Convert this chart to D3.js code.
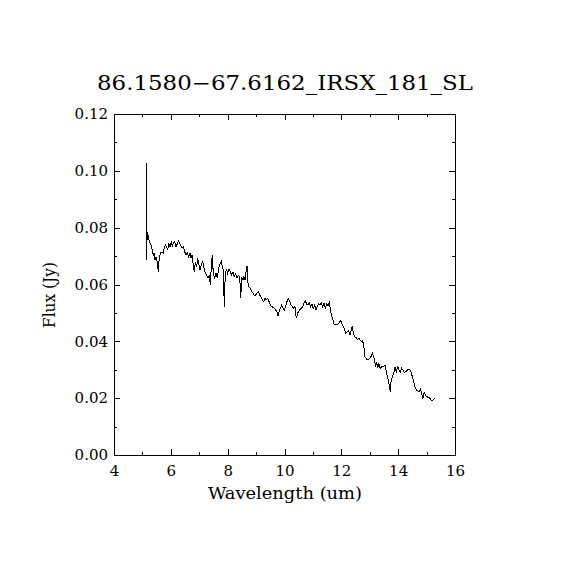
<!DOCTYPE html>
<html>
<head>
<meta charset="utf-8">
<script src="https://cdn.jsdelivr.net/npm/d3@7"></script>
<style>
  html, body { margin: 0; padding: 0; background: #fff; }
  svg { display: block; }
  .axis text { font-family: "DejaVu Serif", serif; font-size: 15px; fill: #000; }
  .axis line, .axis path { stroke: #000; stroke-width: 1; }
</style>
</head>
<body>
<svg id="chart" width="570" height="570"></svg>
<script>
// spectrum
const wavelength = [
  5.133, 5.144, 5.161, 5.182, 5.207, 5.242, 5.302, 5.348, 5.383, 5.408,
  5.443, 5.478, 5.524, 5.559, 5.594, 5.643, 5.689, 5.735, 5.770, 5.805,
  5.855, 5.890, 5.925, 5.971, 6.016, 6.052, 6.087, 6.136, 6.182, 6.228,
  6.263, 6.298, 6.347, 6.393, 6.439, 6.488, 6.534, 6.580, 6.629, 6.675,
  6.710, 6.745, 6.791, 6.826, 6.861, 6.910, 6.946, 6.981, 7.026, 7.072,
  7.121, 7.167, 7.213, 7.262, 7.308, 7.354, 7.389, 7.424, 7.459, 7.494,
  7.544, 7.589, 7.635, 7.684, 7.720,
  7.776, 7.811, 7.846, 7.882, 7.917, 7.966, 8.001, 8.047, 8.093, 8.142,
  8.188, 8.233, 8.283, 8.328, 8.374, 8.424, 8.459, 8.494, 8.540, 8.575,
  8.610, 8.645, 8.680, 8.705, 8.751, 8.797, 8.846, 8.892, 8.937, 8.987,
  9.032, 9.078, 9.127, 9.173, 9.219, 9.268, 9.314, 9.360, 9.409, 9.455,
  9.500, 9.550, 9.595, 9.641, 9.690, 9.736, 9.771, 9.806, 9.852, 9.902,
  9.947, 9.993, 10.042, 10.088, 10.134, 10.183, 10.229, 10.275, 10.324, 10.370,
  10.415, 10.465, 10.521, 10.581, 10.641, 10.686, 10.732, 10.781, 10.827, 10.873,
  10.922, 10.968, 11.014, 11.063, 11.109, 11.154, 11.204, 11.249, 11.295, 11.344,
  11.390, 11.436, 11.485, 11.531, 11.577, 11.612, 11.647, 11.696, 11.742, 11.788,
  11.837, 11.883, 11.929, 11.978, 12.024, 12.069, 12.119, 12.164, 12.210, 12.259,
  12.305, 12.351, 12.386, 12.421, 12.470, 12.516, 12.562, 12.611, 12.657, 12.703,
  12.752, 12.798, 12.833, 12.893, 12.963,
  12.998, 13.044, 13.090, 13.139, 13.174, 13.209, 13.245, 13.280, 13.315, 13.361,
  13.421, 13.477, 13.537, 13.572, 13.607, 13.653, 13.688, 13.723, 13.748, 13.794,
  13.843, 13.889, 13.934, 13.984, 14.029, 14.075, 14.124, 14.170, 14.216, 14.265,
  14.311, 14.357, 14.406, 14.452, 14.497, 14.547, 14.592, 14.638, 14.687, 14.733,
  14.779, 14.828, 14.863, 14.899, 14.934, 14.969, 15.015, 15.061, 15.110, 15.156,
  15.201, 15.251, 15.286
];
const flux = [
  0.0686, 0.1028, 0.0785, 0.0757, 0.0774, 0.0751, 0.0739, 0.0721, 0.0704, 0.0711,
  0.0686, 0.0698, 0.0680, 0.0645, 0.0698, 0.0711, 0.0715, 0.0711, 0.0729, 0.0739,
  0.0733, 0.0721, 0.0746, 0.0733, 0.0751, 0.0733, 0.0746, 0.0751, 0.0733, 0.0743,
  0.0754, 0.0746, 0.0739, 0.0729, 0.0733, 0.0715, 0.0704, 0.0711, 0.0698, 0.0711,
  0.0692, 0.0704, 0.0669, 0.0645, 0.0680, 0.0663, 0.0692, 0.0675, 0.0651, 0.0669,
  0.0680, 0.0657, 0.0639, 0.0633, 0.0622, 0.0633, 0.0598, 0.0663, 0.0704, 0.0639,
  0.0622, 0.0639, 0.0622, 0.0657, 0.0669,
  0.0680, 0.0663, 0.0651, 0.0522, 0.0645, 0.0651, 0.0639, 0.0654, 0.0645, 0.0633,
  0.0645, 0.0628, 0.0639, 0.0622, 0.0633, 0.0628, 0.0551, 0.0622, 0.0616, 0.0628,
  0.0616, 0.0645, 0.0665, 0.0610, 0.0592, 0.0587, 0.0575, 0.0569, 0.0560, 0.0563,
  0.0569, 0.0575, 0.0563, 0.0557, 0.0546, 0.0540, 0.0551, 0.0546, 0.0551, 0.0540,
  0.0528, 0.0522, 0.0520, 0.0516, 0.0510, 0.0504, 0.0489, 0.0504, 0.0516, 0.0528,
  0.0516, 0.0510, 0.0522, 0.0540, 0.0551, 0.0540, 0.0528, 0.0522, 0.0516, 0.0522,
  0.0481, 0.0499, 0.0510, 0.0516, 0.0522, 0.0534, 0.0543, 0.0531, 0.0528, 0.0534,
  0.0522, 0.0531, 0.0516, 0.0528, 0.0510, 0.0522, 0.0531, 0.0528, 0.0534, 0.0522,
  0.0534, 0.0516, 0.0531, 0.0524, 0.0536, 0.0516, 0.0493, 0.0481, 0.0461, 0.0458,
  0.0461, 0.0460, 0.0466, 0.0473, 0.0461, 0.0452, 0.0440, 0.0428, 0.0434, 0.0437,
  0.0422, 0.0440, 0.0452, 0.0430, 0.0416, 0.0414, 0.0407, 0.0411, 0.0405, 0.0399,
  0.0402, 0.0376, 0.0346, 0.0337, 0.0337,
  0.0340, 0.0346, 0.0358, 0.0346, 0.0328, 0.0311, 0.0328, 0.0305, 0.0323, 0.0305,
  0.0311, 0.0311, 0.0317, 0.0299, 0.0282, 0.0264, 0.0246, 0.0223, 0.0258, 0.0276,
  0.0288, 0.0311, 0.0293, 0.0311, 0.0299, 0.0293, 0.0305, 0.0299, 0.0290, 0.0293,
  0.0297, 0.0302, 0.0302, 0.0293, 0.0276, 0.0258, 0.0240, 0.0229, 0.0226, 0.0223,
  0.0231, 0.0217, 0.0196, 0.0215, 0.0219, 0.0208, 0.0205, 0.0203, 0.0200, 0.0194,
  0.0191, 0.0196, 0.0200
];

const title = "86.1580\u221267.6162_IRSX_181_SL";
const xLabel = "Wavelength (um)";
const yLabel = "Flux (Jy)";
const xDomain = [4, 16];
const yDomain = [0, 0.12];
const xMajor = [4, 6, 8, 10, 12, 14, 16];
const xMinor = [5, 7, 9, 11, 13, 15];
const yMajor = [0, 0.02, 0.04, 0.06, 0.08, 0.10, 0.12];
const yMinor = [0.01, 0.03, 0.05, 0.07, 0.09, 0.11];

const svg = d3.select("#chart");
const plotLeft = 114, plotRight = 455, plotTop = 114, plotBottom = 455;

const x = d3.scaleLinear().domain(xDomain).range([plotLeft, plotRight]);
const y = d3.scaleLinear().domain(yDomain).range([plotBottom, plotTop]);

// frame
svg.append("rect")
  .attr("x", plotLeft).attr("y", plotTop)
  .attr("width", plotRight - plotLeft).attr("height", plotBottom - plotTop)
  .attr("fill", "none").attr("stroke", "#000")
  .attr("shape-rendering", "crispEdges");

// axes, ticks drawn inward
function addAxis(axis, tx, ty) {
  const g = svg.append("g")
    .attr("class", "axis")
    .attr("transform", `translate(${tx},${ty})`)
    .attr("shape-rendering", "crispEdges")
    .call(axis);
  g.select(".domain").remove();
  return g;
}

addAxis(d3.axisBottom(x).tickValues(xMajor).tickFormat(d3.format("d"))
  .tickSizeInner(-6).tickSizeOuter(0).tickPadding(10), 0, plotBottom);
addAxis(d3.axisBottom(x).tickValues(xMinor).tickFormat("")
  .tickSizeInner(-3).tickSizeOuter(0), 0, plotBottom);
addAxis(d3.axisTop(x).tickValues(xMajor).tickFormat("")
  .tickSizeInner(-6).tickSizeOuter(0), 0, plotTop);
addAxis(d3.axisTop(x).tickValues(xMinor).tickFormat("")
  .tickSizeInner(-3).tickSizeOuter(0), 0, plotTop);

addAxis(d3.axisLeft(y).tickValues(yMajor).tickFormat(d3.format(".2f"))
  .tickSizeInner(-6).tickSizeOuter(0).tickPadding(6), plotLeft, 0);
addAxis(d3.axisLeft(y).tickValues(yMinor).tickFormat("")
  .tickSizeInner(-3).tickSizeOuter(0), plotLeft, 0);
addAxis(d3.axisRight(y).tickValues(yMajor).tickFormat("")
  .tickSizeInner(-6).tickSizeOuter(0), plotRight, 0);
addAxis(d3.axisRight(y).tickValues(yMinor).tickFormat("")
  .tickSizeInner(-3).tickSizeOuter(0), plotRight, 0);

// spectrum, drawn aliased like the original raster plot
const points = wavelength.map((w, i) => [w, flux[i]]);
const line = d3.line().x(d => x(d[0])).y(d => y(d[1]));
svg.append("path")
  .datum(points)
  .attr("d", line)
  .attr("fill", "none")
  .attr("stroke", "#000")
  .attr("stroke-width", 1)
  .attr("shape-rendering", "crispEdges");

// title and axis labels
svg.append("text")
  .attr("x", 285).attr("y", 90)
  .attr("text-anchor", "middle")
  .attr("textLength", 376).attr("lengthAdjust", "spacingAndGlyphs")
  .style("font-family", "DejaVu Serif, serif").style("font-size", "20px")
  .text(title);

svg.append("text")
  .attr("x", 285).attr("y", 499)
  .attr("text-anchor", "middle")
  .attr("textLength", 154).attr("lengthAdjust", "spacingAndGlyphs")
  .style("font-family", "DejaVu Serif, serif").style("font-size", "16px")
  .text(xLabel);

svg.append("text")
  .attr("transform", "translate(55,295) rotate(-90)")
  .attr("text-anchor", "middle")
  .attr("textLength", 66).attr("lengthAdjust", "spacingAndGlyphs")
  .style("font-family", "DejaVu Serif, serif").style("font-size", "16px")
  .text(yLabel);
</script>
</body>
</html>
